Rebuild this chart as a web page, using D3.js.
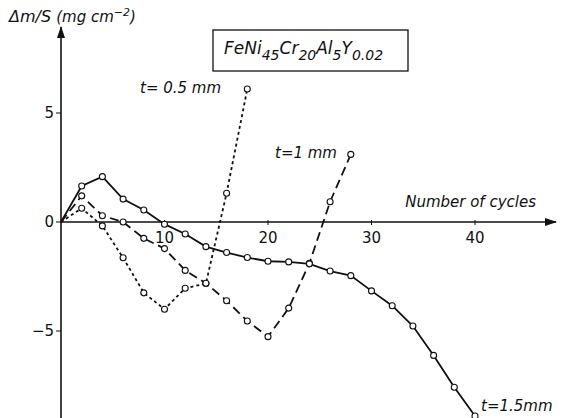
<!DOCTYPE html>
<html>
<head>
<meta charset="utf-8">
<script src="https://cdn.jsdelivr.net/npm/d3@7"></script>
<style>
  body { margin: 0; background: #fff; }
  svg text { font-family: "DejaVu Sans", sans-serif; fill: #111; }
</style>
</head>
<body>
<div id="chart"></div>
<script>
// ===== data =====
const cyclesThick = [0, 2, 4, 6, 8, 10, 12, 14, 16, 18, 20, 22, 24, 26, 28, 30, 32, 34, 36, 38, 40];
const massThick = [0, 1.65, 2.08, 1.05, 0.55, -0.1, -0.55, -1.13, -1.4, -1.63, -1.8, -1.83, -1.92, -2.25, -2.46, -3.16, -3.84, -4.77, -6.12, -7.58, -8.9];

const cyclesMid = [0, 2, 4, 6, 8, 10, 12, 14, 16, 18, 20, 22, 24, 26, 28];
const massMid = [0, 1.2, 0.29, 0, -0.75, -1.22, -2.22, -2.81, -3.61, -4.54, -5.26, -3.95, -1.9, 0.93, 3.1];

const cyclesThin = [0, 2, 4, 6, 8, 10, 12, 14, 16, 18];
const massThin = [0, 0.63, -0.18, -1.64, -3.25, -4.0, -3.04, -2.82, 1.32, 6.1];

const xTicks = [10, 20, 30, 40];
const yTicks = [5, 0, -5];

const W = 562, H = 418;

const svg = d3.select("#chart").append("svg")
  .attr("width", W).attr("height", H);

const x = d3.scaleLinear().domain([0, 40]).range([61, 475]);
const y = d3.scaleLinear().domain([-5, 5]).range([331, 113]);

// arrow heads
const defs = svg.append("defs");
defs.append("marker")
  .attr("id", "arrow")
  .attr("viewBox", "0 0 12 8")
  .attr("refX", 11).attr("refY", 4)
  .attr("markerWidth", 12).attr("markerHeight", 8)
  .attr("markerUnits", "userSpaceOnUse")
  .attr("orient", "auto")
  .append("path").attr("d", "M0,0 L12,4 L0,8 Z").attr("fill", "#111");

// axes lines
svg.append("line")
  .attr("x1", x(0)).attr("y1", H).attr("x2", x(0)).attr("y2", 27)
  .attr("stroke", "#111").attr("stroke-width", 1.6)
  .attr("marker-end", "url(#arrow)");
svg.append("line")
  .attr("x1", x(0)).attr("y1", y(0)).attr("x2", 556).attr("y2", y(0))
  .attr("stroke", "#111").attr("stroke-width", 1.6)
  .attr("marker-end", "url(#arrow)");

// x ticks
const xg = svg.append("g");
xTicks.forEach(t => {
  xg.append("line")
    .attr("x1", x(t)).attr("x2", x(t))
    .attr("y1", y(0) - 2).attr("y2", y(0) + 3)
    .attr("stroke", "#111").attr("stroke-width", 1);
  xg.append("text")
    .attr("x", x(t)).attr("y", y(0) + 21)
    .attr("text-anchor", "middle")
    .attr("font-size", "15px")
    .text(t);
});

// y ticks
const yg = svg.append("g");
yTicks.forEach(t => {
  yg.append("line")
    .attr("x1", x(0) - 5).attr("x2", x(0))
    .attr("y1", y(t)).attr("y2", y(t))
    .attr("stroke", "#111").attr("stroke-width", 1);
  yg.append("text")
    .attr("x", x(0) - 7).attr("y", y(t))
    .attr("dy", "0.36em")
    .attr("text-anchor", "end")
    .attr("font-size", "15px")
    .text(t < 0 ? "\u2212" + Math.abs(t) : t);
});

// series
const line = d3.line().x(d => x(d[0])).y(d => y(d[1]));

function drawSeries(cx, my, dash) {
  const pts = cx.map((c, i) => [c, my[i]]);
  svg.append("path")
    .datum(pts)
    .attr("d", line)
    .attr("fill", "none")
    .attr("stroke", "#111")
    .attr("stroke-width", 1.8)
    .attr("stroke-dasharray", dash);
  return pts;
}

const allPts = [
  drawSeries(cyclesThin, massThin, "3,3"),
  drawSeries(cyclesMid, massMid, "9,5"),
  drawSeries(cyclesThick, massThick, null)
];

allPts.forEach(pts => {
  svg.append("g").selectAll("circle")
    .data(pts.slice(1))
    .join("circle")
    .attr("cx", d => x(d[0]))
    .attr("cy", d => y(d[1]))
    .attr("r", 3)
    .attr("fill", "#fff")
    .attr("stroke", "#111")
    .attr("stroke-width", 1.1);
});

// y axis label
const yl = svg.append("text").attr("x", 9).attr("y", 22);
yl.append("tspan").attr("font-size", "16px").attr("font-style", "italic").text("\u0394m/S ");
yl.append("tspan").attr("font-size", "15px").attr("font-style", "italic").text("(mg cm");
yl.append("tspan").attr("font-size", "11px").attr("font-style", "italic").attr("dy", -6).text("\u22122");
yl.append("tspan").attr("font-size", "15px").attr("font-style", "italic").attr("dy", 6).text(")");

// x axis label
svg.append("text")
  .attr("x", 536).attr("y", 207)
  .attr("text-anchor", "end")
  .attr("font-size", "15px").attr("font-style", "italic")
  .text("Number of cycles");

// title box
svg.append("rect")
  .attr("x", 213).attr("y", 30)
  .attr("width", 195).attr("height", 41)
  .attr("fill", "none").attr("stroke", "#111").attr("stroke-width", 1.3);
const tt = svg.append("text").attr("x", 224).attr("y", 54)
  .attr("font-size", "17px").attr("font-style", "italic");
[["FeNi", "45"], ["Cr", "20"], ["Al", "5"], ["Y", "0.02"]].forEach(([el, sub], i) => {
  tt.append("tspan").attr("font-size", "17px").attr("dy", i === 0 ? 0 : -6).text(el);
  tt.append("tspan").attr("font-size", "14px").attr("dy", 6).text(sub);
});

// curve labels
svg.append("text").attr("x", 140).attr("y", 93)
  .attr("font-size", "15px").attr("font-style", "italic").text("t= 0.5 mm");
svg.append("text").attr("x", 275).attr("y", 158)
  .attr("font-size", "15px").attr("font-style", "italic").text("t=1 mm");
svg.append("text").attr("x", 481).attr("y", 411)
  .attr("font-size", "15px").attr("font-style", "italic").text("t=1.5mm");
</script>
</body>
</html>
